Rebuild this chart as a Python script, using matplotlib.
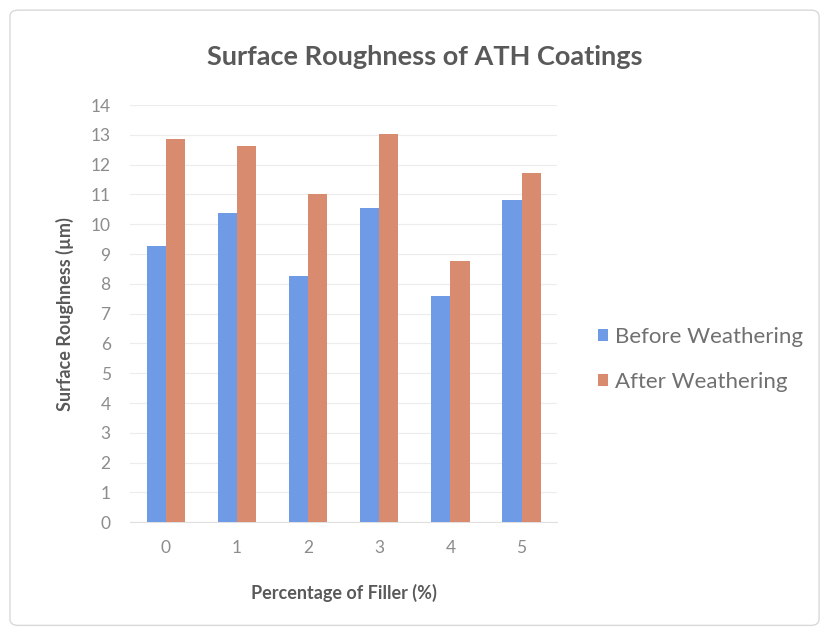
import matplotlib
matplotlib.use("Agg")
import matplotlib.pyplot as plt
import numpy as np
from matplotlib.patches import FancyBboxPatch

categories = ["0", "1", "2", "3", "4", "5"]
before = [9.27, 10.37, 8.27, 10.54, 7.6, 10.82]
after = [12.85, 12.64, 11.02, 13.02, 8.76, 11.73]
series_names = ["Before Weathering", "After Weathering"]
yticks = list(range(0, 15))

plt.rcParams['font.family'] = ['Lato', 'DejaVu Sans']

fig = plt.figure(figsize=(8.29, 6.33), dpi=100)
fig.patches.append(FancyBboxPatch((0.012, 0.012), 0.976, 0.972, boxstyle="round,pad=0,rounding_size=0.01",
                                  transform=fig.transFigure, fill=False, edgecolor="#d9d9d9", linewidth=1.0))
ax = fig.add_axes([0.157, 0.175, 0.515, 0.659])

x = np.arange(len(categories))
w = 0.27
blue = "#6f9ae6"
orange = "#d98b70"
ax.bar(x - w/2, before, width=w, color=blue, label=series_names[0], zorder=3)
ax.bar(x + w/2, after, width=w, color=orange, label=series_names[1], zorder=3)

ax.set_xlim(-0.5, len(categories) - 0.5)
ax.set_ylim(0, 14)
ax.set_yticks(yticks)
ax.set_yticklabels([str(t) for t in yticks])
ax.set_xticks(x)
ax.set_xticklabels(categories)
ax.grid(axis='y', color="#ececec", linewidth=0.8, zorder=0)
for s in ["top", "right", "left"]:
    ax.spines[s].set_visible(False)
ax.spines["bottom"].set_color("#e0e0e0")
ax.tick_params(axis='both', length=0, labelcolor="#8c8c8c", labelsize=12.5)
ax.tick_params(axis='y', pad=14)
ax.tick_params(axis='x', pad=13)

ax.set_xlabel("Percentage of Filler (%)", fontsize=13, fontweight='bold', color="#595959", labelpad=20)
ax.set_ylabel("Surface Roughness (µm)", fontsize=13, fontweight='bold', color="#595959", labelpad=12)
fig.text(0.512, 0.91, "Surface Roughness of ATH Coatings", ha='center', va='center',
         fontsize=19.5, fontweight='bold', color="#595959")

leg = ax.legend(loc='center left', bbox_to_anchor=(1.05, 0.39), frameon=False, fontsize=16,
                handlelength=0.45, handleheight=0.45, handletextpad=0.3, labelspacing=1.15)
for t in leg.get_texts():
    t.set_color("#707070")

fig.savefig("out.png", dpi=100)
